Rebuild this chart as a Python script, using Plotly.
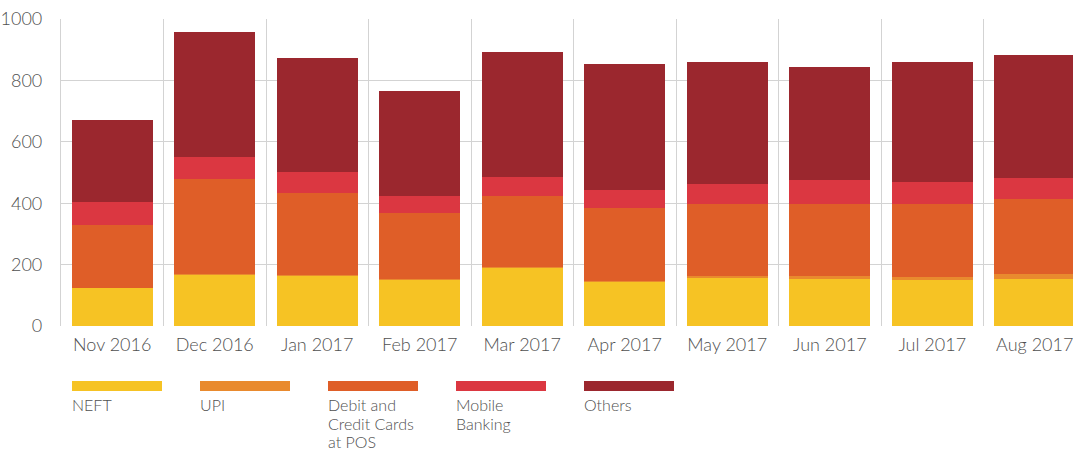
import plotly.graph_objects as go

# Monthly transaction volumes by payment channel (stacked)
months = ["Nov 2016", "Dec 2016", "Jan 2017", "Feb 2017", "Mar 2017",
          "Apr 2017", "May 2017", "Jun 2017", "Jul 2017", "Aug 2017"]
neft = [124, 168, 166, 151, 191, 146, 155, 153, 149, 153]
upi = [0, 0.1, 0.4, 0.5, 1, 2, 9, 10, 10, 16]
cards_pos = [204, 312, 268, 215, 231, 235, 235, 233, 239, 244]
mobile_banking = [75, 71, 66, 56, 62, 59, 65, 78, 70, 70]
others = [269, 407, 371, 342, 408, 411, 395, 371, 393, 400]

series_names = ["NEFT", "UPI", "Debit and Credit Cards at POS", "Mobile Banking", "Others"]
legend_lines = [["NEFT"], ["UPI"], ["Debit and", "Credit Cards", "at POS"],
                ["Mobile", "Banking"], ["Others"]]
colors = ["#F6C324", "#E98A2E", "#DF5E28", "#DB3741", "#9B272E"]
y_ticks = [0, 200, 400, 600, 800, 1000]

W, H = 1073, 451
L, T, B = 61, 19, 326          # plot area edges in pixels
R = W
FONT = "Lato"
WEIGHT = 300
TEXT = "#505050"
GRID = "#d3d3d3"

fig = go.Figure()
for name, vals, col in zip(series_names, [neft, upi, cards_pos, mobile_banking, others], colors):
    fig.add_trace(go.Bar(x=months, y=vals, name=name, marker_color=col,
                         marker_line_width=0, showlegend=False))


def px_x(px):
    return (px - L) / (R - L)


def px_y(py):
    return (B - py) / (B - T)


# Custom legend: colour strip above label text, one annotation per text line
shapes, annotations = [], []
for i, (lines, col) in enumerate(zip(legend_lines, colors)):
    x0 = 72 + i * 128
    shapes.append(dict(type="rect", xref="paper", yref="paper",
                       x0=px_x(x0), x1=px_x(x0 + 90), y0=px_y(391), y1=px_y(381),
                       fillcolor=col, line_width=0, layer="above"))
    for j, line in enumerate(lines):
        annotations.append(dict(text=line, xref="paper", yref="paper",
                                x=px_x(x0 - 1), y=px_y(411 + 18.5 * j), xanchor="left",
                                yanchor="bottom", yshift=-4, showarrow=False, borderpad=0,
                                font=dict(family=FONT, size=16, color=TEXT, weight=WEIGHT)))

fig.update_layout(
    width=W, height=H,
    margin=dict(l=L, r=W - R, t=T, b=H - B, pad=0),
    barmode="stack", bargap=0.21,
    plot_bgcolor="white", paper_bgcolor="white",
    font=dict(family=FONT, size=18, color=TEXT, weight=WEIGHT),
    shapes=shapes, annotations=annotations,
    xaxis=dict(type="category", range=[-0.5, (R - L) / 102.5 - 0.5],
               tickson="boundaries", showgrid=True, gridcolor=GRID, gridwidth=1.2,
               ticks="", showline=False, zeroline=False, ticklabelstandoff=6,
               tickfont=dict(family=FONT, size=18, color=TEXT, weight=WEIGHT)),
    yaxis=dict(range=[0, 1000], tickvals=y_ticks, showgrid=True, gridcolor=GRID,
               gridwidth=1.2, showline=True, linecolor=GRID, linewidth=1.2,
               zeroline=False, ticks="", ticklabelstandoff=14,
               tickfont=dict(family=FONT, size=18, color=TEXT, weight=WEIGHT)),
)

fig.write_html("out.html")
